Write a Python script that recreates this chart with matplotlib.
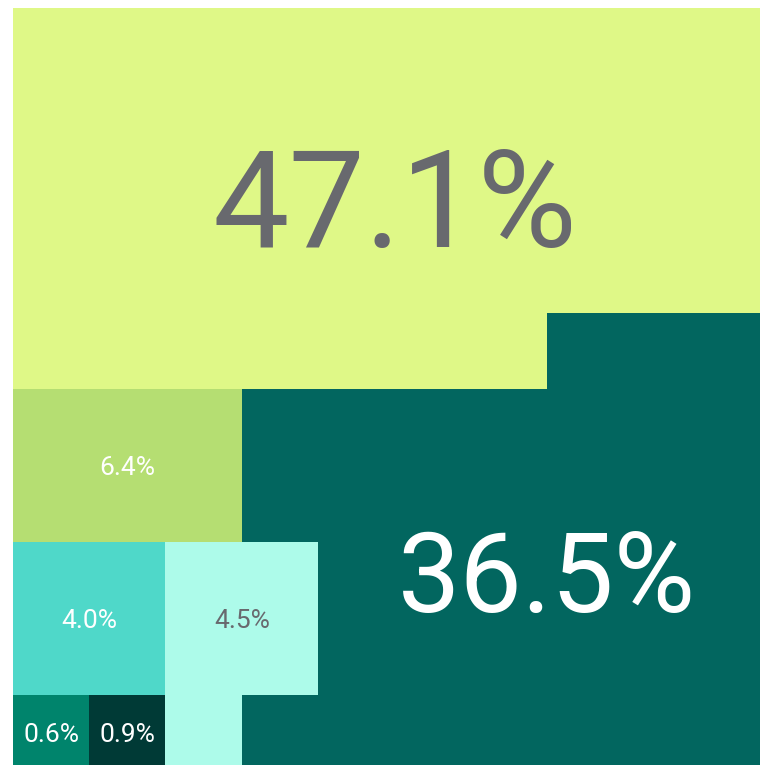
import numpy as np
import matplotlib.pyplot as plt
from matplotlib.colors import ListedColormap

# share of each group, in percent
values = [47.1, 36.5, 6.4, 4.0, 4.5, 0.6, 0.9]
labels = ["{:.1f}%".format(v) for v in values]
colors = ["#dff887", "#02665f", "#b5de72", "#4fd8c9", "#adfbea", "#00846c", "#003a36"]
text_colors = ["#68696e", "white", "white", "white", "#68696e", "white", "white"]

# 10x10 waffle grid, one letter per cell (A = first group, B = second, ...)
grid_rows = [
    "AAAAAAAAAA",
    "AAAAAAAAAA",
    "AAAAAAAAAA",
    "AAAAAAAAAA",
    "AAAAAAABBB",
    "CCCBBBBBBB",
    "CCCBBBBBBB",
    "DDEEBBBBBB",
    "DDEEBBBBBB",
    "FGEBBBBBBB",
]

# visual centre of each label in grid units (x = column, y = row) and font sizes
label_pos = [(5.0, 2.5), (7.0, 7.4), (1.5, 6.0), (1.0, 8.0), (3.0, 8.0), (0.5, 9.5), (1.5, 9.5)]
label_size = [98, 80, 19, 19, 19, 19, 19]

cells = np.array([[ord(ch) - ord("A") for ch in row] for row in grid_rows])

fig = plt.figure(figsize=(7.6, 7.65), dpi=100)
ax = fig.add_axes([0, 0, 1, 1])
ax.imshow(cells, cmap=ListedColormap(colors), vmin=-0.5, vmax=len(colors) - 0.5,
          interpolation="nearest", extent=(0, 10, 10, 0), aspect="auto")

for i, lab in enumerate(labels):
    fs = label_size[i]
    # put the baseline half a digit height below the anchor so the digits sit centred
    ax.annotate(lab, xy=label_pos[i], xytext=(0, -0.355 * fs), textcoords="offset points",
                ha="center", va="baseline", color=text_colors[i],
                fontsize=fs, family="Roboto")

# one cell is 76.3 px; the grid starts 13 px from the left and 8 px from the top
cell = 76.3
ax.set_xlim(-13 / cell, 747 / cell)
ax.set_ylim(757 / cell, -8 / cell)
ax.axis("off")

fig.savefig("out.png", dpi=100, facecolor="white")
